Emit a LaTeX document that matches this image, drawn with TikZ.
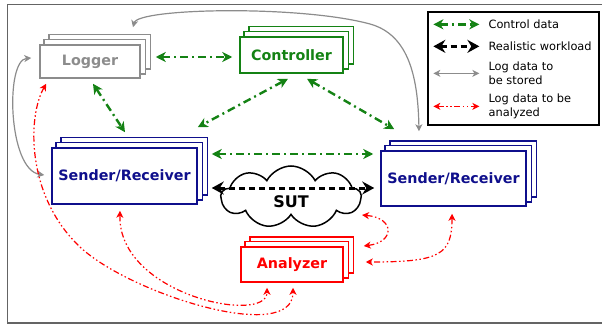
\documentclass[tikz,border=0pt]{standalone}
\usepackage{fontspec}
\setmainfont{DejaVu Sans}
\usetikzlibrary{shapes.symbols,arrows.meta,calc}
\pgfdeclarelayer{stack}
\pgfsetlayers{stack,main}
\definecolor{ctrlgreen}{RGB}{20,130,20}
\definecolor{logred}{RGB}{255,0,0}
\definecolor{loggray}{RGB}{140,140,140}
\definecolor{srblue}{RGB}{15,15,140}
\definecolor{framegray}{RGB}{100,100,100}
\begin{document}
\begin{tikzpicture}[x=1pt,y=-1pt,
  stackbox/.style={draw=#1, fill=white, text=#1, line width=1.5pt, inner sep=0pt,
    font=\fontsize{14.3}{16}\selectfont\bfseries},
  layer/.style={draw=#1, fill=white, line width=1.7pt},
  ctrlflow/.style={ctrlgreen, line width=2.4pt, dash pattern=on 8pt off 4pt on 2pt off 4pt,
    {Stealth[length=10pt,width=10pt,inset=3pt]}-{Stealth[length=10pt,width=10pt,inset=3pt]}},
  workload/.style={black, line width=3pt, dash pattern=on 6pt off 4pt,
    {Stealth[length=12pt,width=13pt,inset=4pt]}-{Stealth[length=12pt,width=13pt,inset=4pt]}},
  storeflow/.style={loggray, line width=1.2pt,
    {Stealth[length=7pt,width=7pt,inset=2pt]}-{Stealth[length=7pt,width=7pt,inset=2pt]}},
  analyzeflow/.style={logred, line width=1.2pt,
    dash pattern=on 6pt off 2.5pt on 1.5pt off 2.5pt on 1.5pt off 2.5pt,
    {Stealth[length=7pt,width=7pt,inset=2pt]}-{Stealth[length=7pt,width=7pt,inset=2pt]}},
  legtext/.style={anchor=west, align=left, inner sep=0pt,
    font=\fontsize{11.4}{14}\selectfont},
]
\useasboundingbox (0,0) rectangle (602,326);

% outer frame (open on the right)
\draw[framegray, line width=1.5pt] (603,4.5) -- (7.5,4.5) -- (7.5,323) -- (603,323);

% components
\node[stackbox=loggray, minimum width=100pt, minimum height=33pt] (logger) at (90,61.5) {Logger};
\node[stackbox=ctrlgreen, minimum width=103pt, minimum height=36pt] (ctrl) at (291.5,55) {Controller};
\node[stackbox=srblue, minimum width=145pt, minimum height=56pt] (srl) at (124.5,176) {Sender/Receiver};
\node[stackbox=srblue, minimum width=145pt, minimum height=55pt] (srr) at (453.5,178.5) {Sender/Receiver};
\node[stackbox=logred, minimum width=102pt, minimum height=35pt] (ana) at (292,264.5) {Analyzer};

% two stacked copies behind each component
\begin{pgfonlayer}{stack}
\foreach \n/\c in {logger/loggray, ctrl/ctrlgreen, srl/srblue, srr/srblue, ana/logred}{
  \foreach \k in {2,1}{
    \draw[layer=\c] ($(\n.south west)+(4.8*\k,-4.8*\k)$) rectangle ($(\n.north east)+(4.8*\k,-4.8*\k)$);
  }
}
\end{pgfonlayer}

% system under test
\node[cloud, draw, line width=1.5pt, fill=white, cloud puffs=9, cloud puff arc=125,
      aspect=2.2, minimum width=140pt, minimum height=62pt, inner sep=0pt] (sut) at (291,197) {};
\node[font=\fontsize{16}{18}\selectfont\bfseries, inner sep=0pt] (sutlabel) at (291,202) {SUT};

% control data
\draw[ctrlflow] ($(logger.east)+(15,-4.5)$) -- ($(ctrl.west)+(-7,2)$);
\draw[ctrlflow] ($(logger.south)+(3,5)$) -- ($(srl.north)+(0.5,-15)$);
\draw[ctrlflow] ($(ctrl.south)+(-3.5,5)$) -- ($(srl.north east)+(0,-20)$);
\draw[ctrlflow] ($(ctrl.south)+(15.5,5)$) -- ($(srr.north west)+(14,-21)$);
\draw[ctrlflow] ($(srl.east)+(14,-22)$) -- ($(srr.west)+(-7,-24.5)$);

% realistic workload through the SUT
\draw[workload] ($(srl.east)+(14,12)$) -- ($(srr.west)+(-6,9.5)$);

% log data to be stored
\draw[storeflow] ($(logger.north)+(43,-17)$) .. controls (138,8) and (300,5) .. (370,24)
   .. controls (410,35) and (418,80) .. ($(srr.north)+(-34.5,-19)$);
\draw[storeflow] ($(logger.west)+(-8,-3.5)$) .. controls (5,60) and (8,170) .. ($(srl.west)+(-7,-1)$);

% log data to be analyzed
\draw[analyzeflow] ($(logger.south west)+(7,5)$) .. controls (28,115) and (25,195) .. (80,247)
   .. controls (130,294) and (293,345) .. ($(ana.south)+(1,5)$);
\draw[analyzeflow] ($(srl.south)+(-4.5,6)$) .. controls (118,295) and (267,325) .. ($(ana.south)+(-25,5)$);
\draw[analyzeflow] ($(srr.south)+(-1.5,7)$) .. controls (452,255) and (440,262) .. ($(ana.east)+(22,-2.5)$);
\draw[analyzeflow] ($(sut.center)+(71,18)$) .. controls (395,218) and (395,242) .. ($(ana.east)+(20,-18.5)$);

% legend
\node[draw=black, line width=1.3pt, minimum width=171pt, minimum height=113pt, inner sep=0pt] (legend) at (513.5,68.5) {};
\draw[ctrlflow] ($(legend.north west)+(6,13)$) -- ($(legend.north west)+(52,13)$);
\draw[workload] ($(legend.north west)+(6,35)$) -- ($(legend.north west)+(52,35)$);
\draw[storeflow] ($(legend.north west)+(6,62)$) -- ($(legend.north west)+(52,62)$);
\draw[analyzeflow] ($(legend.north west)+(6,95)$) -- ($(legend.north west)+(52,95)$);
\node[legtext] (legctrl) at ($(legend.north west)+(61,13)$) {Control data};
\node[legtext] (legwork) at ($(legend.north west)+(61,35)$) {Realistic workload};
\node[legtext] (legstore) at ($(legend.north west)+(61,62)$) {Log data to\\be stored};
\node[legtext] (leganal) at ($(legend.north west)+(61,95)$) {Log data to be\\analyzed};
\end{tikzpicture}
\end{document}
